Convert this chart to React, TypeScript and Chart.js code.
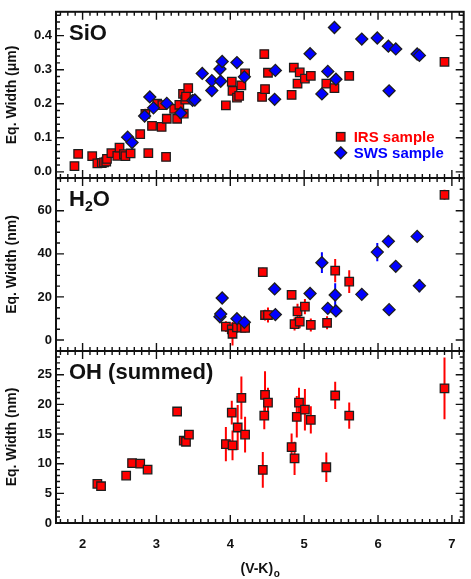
import React, { useEffect, useRef } from "react";
import { Chart, registerables } from "chart.js";

Chart.register(...registerables);

const FONT = '"Liberation Sans", Arial, Helvetica, sans-serif';
const W = 471;
const H = 579;
const PLOT_LEFT = 56;
const PLOT_RIGHT = 466;

// shared x axis
const xMin = 1.64;
const xMax = 7.16;
const xTickValues = [2, 3, 4, 5, 6, 7];
const xMinorStep = 0.1;

// ---------- SiO panel ----------
const sioTicks = [0, 0.1, 0.2, 0.3, 0.4];
const sioIrsX = [1.89, 1.94, 2.13, 2.2, 2.26, 2.29, 2.32, 2.33, 2.39, 2.47, 2.5, 2.56, 2.58, 2.65, 2.78, 2.85, 2.89, 2.94, 3.01, 3.07, 3.08, 3.13, 3.14, 3.24, 3.28, 3.31, 3.36, 3.37, 3.39, 3.4, 3.43, 3.94, 4.02, 4.03, 4.09, 4.12, 4.15, 4.2, 4.46, 4.43, 4.47, 4.51, 4.83, 4.86, 4.91, 4.94, 5.01, 5.09, 5.3, 5.41, 5.61, 6.9];
const sioIrsY = [0.017, 0.053, 0.046, 0.025, 0.026, 0.028, 0.03, 0.038, 0.055, 0.047, 0.071, 0.052, 0.046, 0.054, 0.111, 0.17, 0.055, 0.135, 0.2, 0.132, 0.196, 0.044, 0.156, 0.185, 0.156, 0.197, 0.229, 0.171, 0.212, 0.221, 0.246, 0.195, 0.265, 0.238, 0.218, 0.223, 0.254, 0.289, 0.346, 0.22, 0.243, 0.291, 0.226, 0.306, 0.259, 0.292, 0.274, 0.282, 0.259, 0.246, 0.282, 0.323];
const sioIrsErr = [0, 0, 0, 0, 0, 0, 0, 0, 0, 0, 0, 0, 0, 0, 0.012, 0.015, 0, 0, 0, 0, 0, 0, 0, 0, 0, 0, 0.012, 0, 0.01, 0, 0, 0, 0, 0, 0, 0, 0, 0, 0, 0, 0, 0, 0, 0, 0, 0, 0, 0, 0, 0, 0, 0];
const sioSwsX = [2.61, 2.67, 2.84, 2.91, 2.96, 3.14, 3.33, 3.49, 3.52, 3.62, 3.75, 3.75, 3.86, 3.89, 3.87, 4.09, 4.19, 4.61, 4.6, 5.08, 5.24, 5.32, 5.43, 5.41, 5.78, 5.99, 6.14, 6.24, 6.15, 6.53, 6.56];
const sioSwsY = [0.102, 0.086, 0.164, 0.22, 0.188, 0.201, 0.173, 0.21, 0.211, 0.289, 0.239, 0.268, 0.302, 0.324, 0.266, 0.321, 0.279, 0.298, 0.213, 0.347, 0.229, 0.295, 0.272, 0.424, 0.39, 0.393, 0.369, 0.361, 0.238, 0.346, 0.342];

// ---------- H2O panel ----------
const h2oTicks = [0, 20, 40, 60];
const h2oIrsX = [3.94, 4.02, 4.03, 4.09, 4.15, 4.2, 4.44, 4.47, 4.51, 4.83, 4.87, 4.91, 4.94, 5.01, 5.09, 5.31, 5.42, 5.61, 6.9];
const h2oIrsY = [6.2, 4.9, 2.9, 5.9, 5.7, 5.6, 31.5, 11.6, 11.6, 21.0, 7.4, 13.3, 8.5, 15.5, 7.0, 8.0, 32.2, 27.1, 67.4];
const h2oIrsErr = [2.5, 3, 5.5, 2.5, 2, 2, 2, 2.5, 3.5, 2, 3, 3.5, 3, 3.5, 3, 3, 5.4, 5.3, 2.3];
const h2oSwsX = [3.86, 3.87, 3.89, 4.09, 4.19, 4.6, 4.61, 5.08, 5.24, 5.32, 5.42, 5.43, 5.78, 5.99, 6.14, 6.15, 6.24, 6.53, 6.56];
const h2oSwsY = [10.8, 12.1, 19.5, 9.9, 8.2, 23.7, 11.8, 21.6, 35.9, 14.7, 20.9, 13.5, 21.2, 40.8, 45.8, 14.1, 34.2, 48.1, 25.2];
const h2oSwsErr = [1, 1, 1, 1, 1, 1, 1, 1, 4.8, 1, 5.4, 1, 1, 4.2, 1.5, 1, 1, 2.5, 3];

// ---------- OH panel ----------
const ohTicks = [0, 5, 10, 15, 20, 25];
const ohIrsX = [2.2, 2.25, 2.59, 2.67, 2.78, 2.88, 3.28, 3.37, 3.4, 3.44, 3.94, 4.02, 4.03, 4.1, 4.15, 4.2, 4.44, 4.46, 4.47, 4.51, 4.83, 4.87, 4.9, 4.93, 5.01, 5.09, 5.3, 5.42, 5.61, 6.9];
const ohIrsY = [6.6, 6.2, 8.0, 10.1, 10.0, 9.0, 18.8, 13.9, 13.7, 14.9, 13.3, 18.6, 13.1, 16.1, 21.1, 14.9, 8.95, 18.1, 21.6, 20.3, 12.8, 10.9, 17.9, 20.3, 19.1, 17.4, 9.4, 21.5, 18.1, 22.7];
const ohIrsErr = [0.3, 0.3, 0.3, 0.3, 0.3, 0.3, 0.3, 0.3, 0.3, 0.3, 2.9, 2.0, 2.5, 3.8, 3.6, 3.0, 3.0, 2.3, 4.0, 2.5, 2.3, 2.8, 3.5, 2.5, 3.5, 2.3, 2.5, 2.3, 2.2, 5.2];

const RED = "#ff0000";
const BLUE = "#0000ff";
const EDGE = "#1e1e1e";

function pts(xs: number[], ys: number[]) {
  return xs.map((x, i) => ({ x, y: ys[i] }));
}

function irsSet(xs: number[], ys: number[], errs: number[]) {
  return {
    label: "IRS sample",
    data: pts(xs, ys),
    pointStyle: "rect",
    pointRadius: 6,
    pointHoverRadius: 6,
    backgroundColor: RED,
    borderColor: EDGE,
    borderWidth: 1.3,
    order: 1,
    errs,
    errColor: RED,
  };
}

function swsSet(xs: number[], ys: number[], errs: number[] | null) {
  return {
    label: "SWS sample",
    data: pts(xs, ys),
    pointStyle: "rectRot",
    pointRadius: 6,
    pointHoverRadius: 6,
    backgroundColor: BLUE,
    borderColor: EDGE,
    borderWidth: 1.3,
    order: 0,
    errs,
    errColor: BLUE,
  };
}

type Spec = {
  key: string;
  top: number;
  bottom: number;
  yMin: number;
  yMax: number;
  yTicks: number[];
  yMinorStep: number;
  fmt: (v: number) => string;
  yTitle: string;
  label: string;
  sub?: string;
  labelRest?: string;
  legend?: boolean;
  showX: boolean;
  datasets: any[];
};

function rangeSteps(min: number, max: number, step: number) {
  const out: number[] = [];
  const a = Math.ceil(min / step - 1e-9);
  const b = Math.floor(max / step + 1e-9);
  for (let k = a; k <= b; k++) out.push(+(k * step).toFixed(6));
  return out;
}

function makeDecor(spec: Spec) {
  return {
    id: "decor_" + spec.key,
    beforeDatasetsDraw(chart: any) {
      const ctx = chart.ctx;
      const xs = chart.scales.x;
      const ys = chart.scales.y;
      const a = chart.chartArea;
      ctx.save();
      ctx.beginPath();
      ctx.rect(a.left, a.top, a.right - a.left, a.bottom - a.top);
      ctx.clip();
      chart.data.datasets.forEach((ds: any) => {
        const errs = ds.errs;
        if (!errs) return;
        ctx.strokeStyle = ds.errColor;
        ctx.lineWidth = 2;
        ds.data.forEach((p: any, i: number) => {
          const e = errs[i];
          if (!e) return;
          const px = xs.getPixelForValue(p.x);
          ctx.beginPath();
          ctx.moveTo(px, ys.getPixelForValue(p.y - e));
          ctx.lineTo(px, ys.getPixelForValue(p.y + e));
          ctx.stroke();
        });
      });
      ctx.restore();
    },
    afterDraw(chart: any) {
      const ctx = chart.ctx;
      const xs = chart.scales.x;
      const ys = chart.scales.y;
      const { left, right, top, bottom } = chart.chartArea;
      ctx.save();
      // ticks
      ctx.strokeStyle = "#111";
      ctx.lineWidth = 1.4;
      ctx.beginPath();
      const xMinor = rangeSteps(xMin, xMax, xMinorStep).filter(
        (v) => Math.abs(v - Math.round(v)) > 1e-6
      );
      xTickValues.forEach((v) => {
        const px = xs.getPixelForValue(v);
        ctx.moveTo(px, bottom);
        ctx.lineTo(px, bottom - 8);
        ctx.moveTo(px, top);
        ctx.lineTo(px, top + 8);
      });
      xMinor.forEach((v) => {
        const px = xs.getPixelForValue(v);
        ctx.moveTo(px, bottom);
        ctx.lineTo(px, bottom - 4);
        ctx.moveTo(px, top);
        ctx.lineTo(px, top + 4);
      });
      const yMinor = rangeSteps(spec.yMin, spec.yMax, spec.yMinorStep).filter(
        (v) => !spec.yTicks.some((t) => Math.abs(t - v) < 1e-6)
      );
      spec.yTicks.forEach((v) => {
        const py = ys.getPixelForValue(v);
        ctx.moveTo(left, py);
        ctx.lineTo(left + 8, py);
        ctx.moveTo(right, py);
        ctx.lineTo(right - 8, py);
      });
      yMinor.forEach((v) => {
        const py = ys.getPixelForValue(v);
        ctx.moveTo(left, py);
        ctx.lineTo(left + 4, py);
        ctx.moveTo(right, py);
        ctx.lineTo(right - 4, py);
      });
      ctx.stroke();
      // frame
      ctx.lineWidth = 2;
      ctx.strokeRect(left, top, right - left, bottom - top);

      // panel label
      ctx.fillStyle = "#111";
      ctx.textBaseline = "alphabetic";
      ctx.textAlign = "left";
      let lx = left + 13;
      const ly = top + 28;
      ctx.font = `bold 22px ${FONT}`;
      ctx.fillText(spec.label, lx, ly);
      if (spec.sub) {
        lx += ctx.measureText(spec.label).width;
        ctx.font = `bold 14px ${FONT}`;
        ctx.fillText(spec.sub, lx, ly + 5);
        lx += ctx.measureText(spec.sub).width;
        ctx.font = `bold 22px ${FONT}`;
        ctx.fillText(spec.labelRest || "", lx, ly);
      }

      // legend
      if (spec.legend) {
        const mx = right - 123;
        const y1 = top + 125;
        const y2 = top + 141;
        const s = 4.25;
        ctx.fillStyle = RED;
        ctx.strokeStyle = EDGE;
        ctx.lineWidth = 1.3;
        ctx.fillRect(mx - s, y1 - s, 2 * s, 2 * s);
        ctx.strokeRect(mx - s, y1 - s, 2 * s, 2 * s);
        ctx.beginPath();
        ctx.moveTo(mx, y2 - 6);
        ctx.lineTo(mx + 6, y2);
        ctx.lineTo(mx, y2 + 6);
        ctx.lineTo(mx - 6, y2);
        ctx.closePath();
        ctx.fillStyle = BLUE;
        ctx.fill();
        ctx.stroke();
        ctx.font = `bold 15px ${FONT}`;
        ctx.textBaseline = "middle";
        ctx.fillStyle = RED;
        ctx.fillText("IRS sample", right - 110, y1 + 1);
        ctx.fillStyle = BLUE;
        ctx.fillText("SWS sample", right - 110, y2 + 1);
      }

      // x title
      if (spec.showX) {
        const main = "(V-K)";
        const subTxt = "o";
        ctx.fillStyle = "#111";
        ctx.textBaseline = "alphabetic";
        ctx.font = `bold 14px ${FONT}`;
        const w1 = ctx.measureText(main).width;
        ctx.font = `bold 10px ${FONT}`;
        const w2 = ctx.measureText(subTxt).width;
        const cx = (left + right) / 2;
        const x0 = cx - (w1 + w2) / 2;
        ctx.font = `bold 14px ${FONT}`;
        ctx.fillText(main, x0, 573);
        ctx.font = `bold 10px ${FONT}`;
        ctx.fillText(subTxt, x0 + w1 + 0.5, 577);
      }
      ctx.restore();
    },
  };
}

function buildChart(canvas: HTMLCanvasElement, spec: Spec) {
  const tickFont = { family: FONT, size: 13, weight: "bold" as const };
  const xScale: any = {
    type: "linear",
    min: xMin,
    max: xMax,
    display: spec.showX,
    grid: { display: false, drawTicks: false },
    border: { display: false },
    afterBuildTicks: (s: any) => {
      s.ticks = xTickValues.map((v) => ({ value: v }));
    },
    ticks: {
      font: tickFont,
      color: "#111",
      padding: 14,
      autoSkip: false,
      maxRotation: 0,
      callback: (v: any) => String(v),
    },
  };
  if (spec.showX) {
    xScale.afterFit = (s: any) => {
      s.height = H - spec.bottom;
    };
  }
  return new Chart(canvas, {
    type: "scatter",
    data: { datasets: spec.datasets },
    options: {
      animation: false,
      responsive: false,
      maintainAspectRatio: false,
      devicePixelRatio: 1,
      events: [],
      layout: {
        padding: {
          top: spec.top,
          bottom: spec.showX ? 0 : H - spec.bottom,
          left: 0,
          right: W - PLOT_RIGHT,
        },
      },
      plugins: {
        legend: { display: false },
        tooltip: { enabled: false },
        title: { display: false },
      },
      scales: {
        x: xScale,
        y: {
          type: "linear",
          min: spec.yMin,
          max: spec.yMax,
          grid: { display: false, drawTicks: false },
          border: { display: false },
          afterBuildTicks: (s: any) => {
            s.ticks = spec.yTicks.map((v) => ({ value: v }));
          },
          afterFit: (s: any) => {
            s.width = PLOT_LEFT;
          },
          ticks: {
            font: tickFont,
            color: "#111",
            padding: 4,
            autoSkip: false,
            callback: (v: any) => spec.fmt(Number(v)),
          },
          title: {
            display: true,
            text: spec.yTitle,
            color: "#111",
            font: { family: FONT, size: 14, weight: "bold" },
            padding: { top: 4, bottom: 0 },
          },
        },
      },
    } as any,
    plugins: [makeDecor(spec)],
  });
}

const specs: Spec[] = [
  {
    key: "sio",
    top: 5,
    bottom: 178,
    yMin: -0.018,
    yMax: 0.47,
    yTicks: sioTicks,
    yMinorStep: 0.02,
    fmt: (v) => v.toFixed(1),
    yTitle: "Eq. Width (\u03BCm)",
    label: "SiO",
    legend: true,
    showX: false,
    datasets: [irsSet(sioIrsX, sioIrsY, sioIrsErr), swsSet(sioSwsX, sioSwsY, null)],
  },
  {
    key: "h2o",
    top: 178,
    bottom: 351,
    yMin: -5.1,
    yMax: 75.2,
    yTicks: h2oTicks,
    yMinorStep: 5,
    fmt: (v) => String(Math.round(v)),
    yTitle: "Eq. Width (nm)",
    label: "H",
    sub: "2",
    labelRest: "O",
    showX: false,
    datasets: [irsSet(h2oIrsX, h2oIrsY, h2oIrsErr), swsSet(h2oSwsX, h2oSwsY, h2oSwsErr)],
  },
  {
    key: "oh",
    top: 351,
    bottom: 523,
    yMin: 0,
    yMax: 29,
    yTicks: ohTicks,
    yMinorStep: 1,
    fmt: (v) => String(Math.round(v)),
    yTitle: "Eq. Width (nm)",
    label: "OH (summed)",
    showX: true,
    datasets: [irsSet(ohIrsX, ohIrsY, ohIrsErr)],
  },
];

export default function App() {
  const r0 = useRef<HTMLCanvasElement>(null);
  const r1 = useRef<HTMLCanvasElement>(null);
  const r2 = useRef<HTMLCanvasElement>(null);
  useEffect(() => {
    const refs = [r0, r1, r2];
    const charts = specs.map((s, i) => buildChart(refs[i].current as HTMLCanvasElement, s));
    return () => charts.forEach((c) => c.destroy());
  }, []);
  const cs: React.CSSProperties = { position: "absolute", left: 0, top: 0, width: W, height: H };
  return (
    <div style={{ position: "fixed", left: 0, top: 0, width: W, height: H, background: "#fff" }}>
      <canvas ref={r0} width={W} height={H} style={cs} />
      <canvas ref={r1} width={W} height={H} style={cs} />
      <canvas ref={r2} width={W} height={H} style={cs} />
    </div>
  );
}
